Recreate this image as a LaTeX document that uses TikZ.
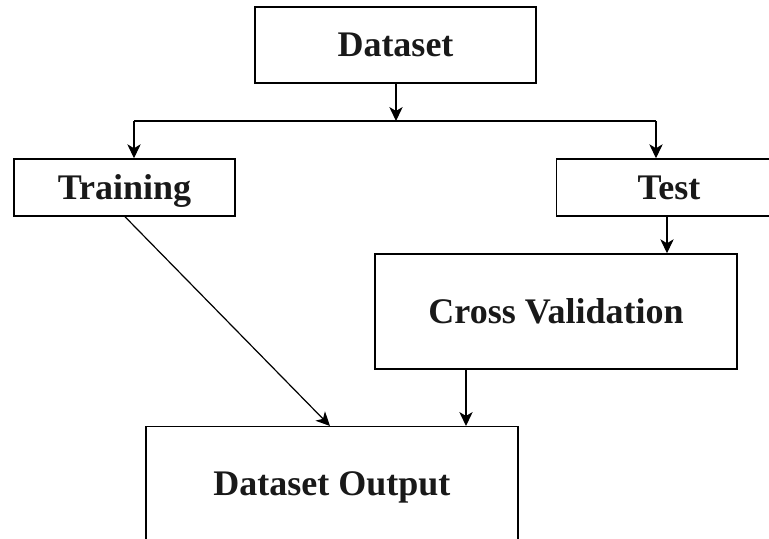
\documentclass[tikz,border=0pt]{standalone}
\usepackage{fontspec}
\setmainfont{Liberation Serif}
\usetikzlibrary{arrows.meta}
\tikzset{
  box/.style={draw=black, line width=1.1pt, inner sep=0pt, font=\fontsize{27}{32}\selectfont\bfseries, text=black!90, text height=17.5pt, text depth=0pt},
  arr/.style={draw=black, line width=0.9pt, -{Stealth[length=10.5pt,width=10pt,inset=3pt]}},
  plain/.style={draw=black, line width=0.9pt}
}
\begin{document}
\begin{tikzpicture}[x=0.75pt,y=-0.75pt]
\useasboundingbox (0,0) rectangle (769,539);
% boxes
\node[box, minimum width=281*0.75pt, minimum height=76*0.75pt] (ds) at (395.5,45) {Dataset};
\node[box, minimum width=221*0.75pt, minimum height=57*0.75pt] (tr) at (124.5,187.5) {Training};
\node[box, anchor=west, minimum height=57*0.75pt, inner xsep=81*0.75pt, text width=200*0.75pt, align=left] (te) at (556,187.5) {Test};
\node[box, minimum width=362*0.75pt, minimum height=115*0.75pt] (cv) at (556,311.5) {Cross Validation};
\node[box, anchor=north, minimum width=372*0.75pt, text height=69*0.75pt, text depth=120*0.75pt] (do) at (332,426) {Dataset Output};
% helper coordinates
\coordinate (split) at (396,121);
\coordinate (L) at (134,121);
\coordinate (R) at (656,121);
\coordinate (tcx) at (667,0);
\coordinate (cvx) at (466,0);
\coordinate (d1) at (125,0);
\coordinate (d2) at (330,0);
% connectors
\draw[arr] (ds.south -| split) -- (split);
\draw[plain] (L) -- (R);
\draw[arr] (L) -- (L |- tr.north);
\draw[arr] (R) -- (R |- te.north);
\draw[arr] (te.south -| tcx) -- (cv.north -| tcx);
\draw[arr] (cv.south -| cvx) -- (do.north -| cvx);
\draw[arr] (tr.south -| d1) -- (do.north -| d2);
\end{tikzpicture}
\end{document}
